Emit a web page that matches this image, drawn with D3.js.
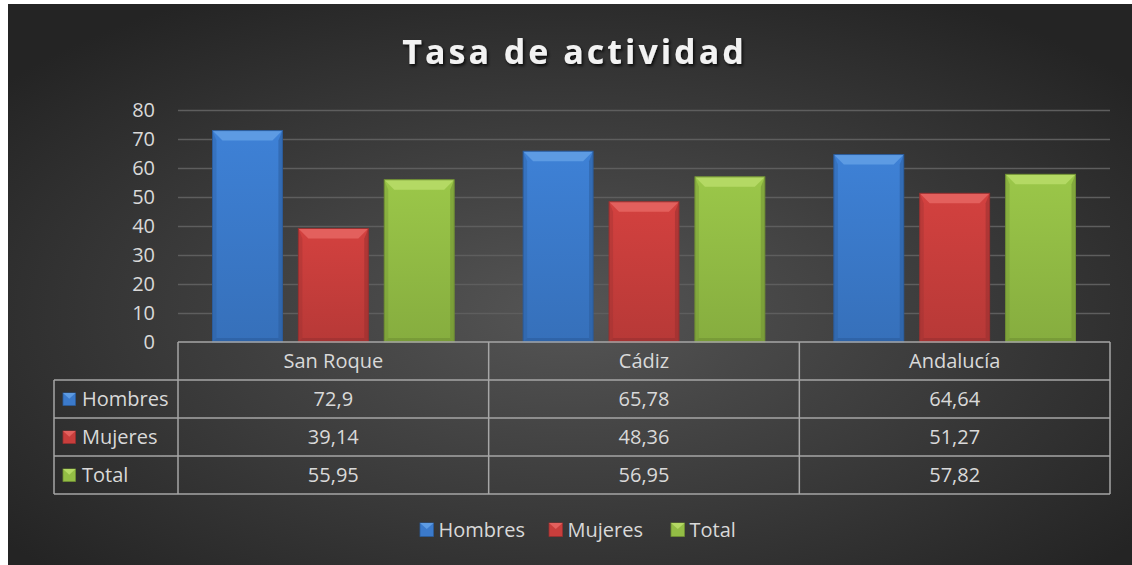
<!DOCTYPE html>
<html>
<head>
<meta charset="utf-8">
<script src="https://cdn.jsdelivr.net/npm/d3@7"></script>
<style>
  body { margin: 0; background: #ffffff; }
  svg text { font-family: "Open Sans", "Noto Sans", sans-serif; fill: #d9d9d9; }
</style>
</head>
<body>
<div id="chart"></div>
<script>
// Chart data
const categories = ["San Roque", "Cádiz", "Andalucía"];
const seriesNames = ["Hombres", "Mujeres", "Total"];
const hombres = [72.9, 65.78, 64.64];
const mujeres = [39.14, 48.36, 51.27];
const total = [55.95, 56.95, 57.82];
const yTicks = [0, 10, 20, 30, 40, 50, 60, 70, 80];

const seriesValues = [hombres, mujeres, total];

// Colours per series: main face, top bevel, dark edge
const colors = {
  Hombres: { main: "#3b7acb", top: "#5d9be3", dark: "#2b5c9c" },
  Mujeres: { main: "#c83e3c", top: "#e3605d", dark: "#973030" },
  Total:   { main: "#93bd45", top: "#b4d964", dark: "#6f8f33" }
};

let w = 1132;
let h = 565;

const svg = d3.select("#chart")
  .append("svg")
  .attr("width", w)
  .attr("height", h);

const defs = svg.append("defs");

// background radial gradient
const bg = defs.append("radialGradient")
  .attr("id", "bg")
  .attr("cx", "50%").attr("cy", "55%").attr("r", "65%");
bg.append("stop").attr("offset", "0%").attr("stop-color", "#555555");
bg.append("stop").attr("offset", "100%").attr("stop-color", "#242424");

// vertical shading for bar faces
seriesNames.forEach(s => {
  const g = defs.append("linearGradient")
    .attr("id", "face-" + s)
    .attr("x1", 0).attr("y1", 0).attr("x2", 0).attr("y2", 1);
  g.append("stop").attr("offset", "0%").attr("stop-color", d3.color(colors[s].main).brighter(0.15));
  g.append("stop").attr("offset", "100%").attr("stop-color", d3.color(colors[s].main).darker(0.25));
});

// title shadow
const shadow = defs.append("filter").attr("id", "shadow")
  .attr("x", "-10%").attr("y", "-30%").attr("width", "120%").attr("height", "160%");
shadow.append("feDropShadow")
  .attr("dx", 1.5).attr("dy", 2).attr("stdDeviation", 1.5)
  .attr("flood-color", "#000").attr("flood-opacity", 0.8);

// chart area background
svg.append("rect")
  .attr("x", 8).attr("y", 4)
  .attr("width", w - 8).attr("height", h - 4)
  .attr("fill", "url(#bg)");

// title
svg.append("text")
  .attr("x", 574.5)
  .attr("y", 64)
  .attr("text-anchor", "middle")
  .style("font-size", "34px")
  .style("font-weight", "bold")
  .style("letter-spacing", "3px")
  .style("fill", "#f2f2f2")
  .attr("filter", "url(#shadow)")
  .text("Tasa de actividad");

// scales
const x = d3.scaleBand()
  .domain(categories)
  .range([178, 1110]);

const xInner = d3.scaleBand()
  .domain(seriesNames)
  .range([34.5, x.bandwidth() - 34.5])
  .paddingInner(0.186);

const y = d3.scaleLinear()
  .domain([0, 80])
  .range([342, 110]);

// gridlines
svg.append("g")
  .attr("transform", "translate(178,0)")
  .call(d3.axisLeft(y).tickValues(yTicks.slice(1)).tickSize(-(1110 - 178)).tickFormat(""))
  .call(g => g.select(".domain").remove())
  .call(g => g.selectAll("line").attr("stroke", "#5e5e5e").attr("stroke-width", 1.5));

// y axis labels
svg.append("g")
  .attr("transform", "translate(178,0)")
  .call(d3.axisLeft(y).tickValues(yTicks).tickSize(0).tickPadding(23))
  .call(g => g.select(".domain").remove())
  .call(g => g.selectAll("text")
    .style("font-size", "20px")
    .style("font-family", "'Open Sans', sans-serif")
    .attr("fill", "#d9d9d9"));

// bars
const barData = [];
categories.forEach((c, i) => {
  seriesNames.forEach((s, j) => {
    barData.push({ category: c, series: s, value: seriesValues[j][i] });
  });
});

const bars = svg.selectAll(".bar")
  .data(barData)
  .enter()
  .append("g")
  .attr("class", "bar");

const bev = 10;
const side = 4;

bars.each(function(d) {
  const g = d3.select(this);
  const x0 = x(d.category) + xInner(d.series);
  const x1 = x0 + xInner.bandwidth();
  const y0 = y(d.value);
  const y1 = y(0);
  const c = colors[d.series];

  g.append("rect")
    .attr("x", x0).attr("y", y0)
    .attr("width", x1 - x0).attr("height", y1 - y0)
    .attr("fill", "url(#face-" + d.series + ")");

  // side edges
  g.append("path")
    .attr("d", `M${x0},${y0}L${x0 + side},${y0 + bev}L${x0 + side},${y1 - 4}L${x0},${y1}Z`)
    .attr("fill", c.dark).attr("opacity", 0.35);
  g.append("path")
    .attr("d", `M${x1},${y0}L${x1 - side},${y0 + bev}L${x1 - side},${y1 - 4}L${x1},${y1}Z`)
    .attr("fill", c.dark).attr("opacity", 0.55);
  // bottom edge
  g.append("path")
    .attr("d", `M${x0},${y1}L${x0 + side},${y1 - 4}L${x1 - side},${y1 - 4}L${x1},${y1}Z`)
    .attr("fill", c.dark).attr("opacity", 0.6);
  // top bevel
  g.append("path")
    .attr("d", `M${x0},${y0}L${x1},${y0}L${x1 - bev},${y0 + bev}L${x0 + bev},${y0 + bev}Z`)
    .attr("fill", c.top);

  g.append("rect")
    .attr("x", x0).attr("y", y0)
    .attr("width", x1 - x0).attr("height", y1 - y0)
    .attr("fill", "none")
    .attr("stroke", c.dark).attr("stroke-width", 1);
});

// data table
const rows = d3.scaleBand()
  .domain(["header"].concat(seriesNames))
  .range([342, 494]);

const tableLeft = 54;
const lineColor = "#a6a6a6";
const table = svg.append("g").attr("class", "table");

// horizontal lines
table.append("line")
  .attr("x1", 178).attr("x2", 1110)
  .attr("y1", rows("header")).attr("y2", rows("header"));
seriesNames.forEach(s => {
  table.append("line")
    .attr("x1", tableLeft).attr("x2", 1110)
    .attr("y1", rows(s)).attr("y2", rows(s));
});
table.append("line")
  .attr("x1", tableLeft).attr("x2", 1110)
  .attr("y1", rows.range()[1]).attr("y2", rows.range()[1]);

// vertical lines
categories.forEach(c => {
  table.append("line")
    .attr("x1", x(c)).attr("x2", x(c))
    .attr("y1", rows("header")).attr("y2", rows.range()[1]);
});
table.append("line")
  .attr("x1", 1110).attr("x2", 1110)
  .attr("y1", rows("header")).attr("y2", rows.range()[1]);
table.append("line")
  .attr("x1", tableLeft).attr("x2", tableLeft)
  .attr("y1", rows(seriesNames[0])).attr("y2", rows.range()[1]);

table.selectAll("line")
  .attr("stroke", lineColor)
  .attr("stroke-width", 1.5);

// header text
table.selectAll(".cat-label")
  .data(categories)
  .enter()
  .append("text")
  .attr("class", "cat-label")
  .attr("x", d => x(d) + x.bandwidth() / 2)
  .attr("y", rows("header") + rows.bandwidth() / 2)
  .attr("dy", "0.36em")
  .attr("text-anchor", "middle")
  .style("font-size", "20px")
  .text(d => d);

const fmt = v => String(v).replace(".", ",");

// legend key icon
function keyIcon(g, s, kx, ky, size) {
  const c = colors[s];
  g.append("rect")
    .attr("x", kx).attr("y", ky).attr("width", size).attr("height", size)
    .attr("fill", c.main).attr("stroke", c.dark).attr("stroke-width", 0.8);
  g.append("path")
    .attr("d", `M${kx},${ky}L${kx + size},${ky}L${kx + size / 2},${ky + size * 0.45}Z`)
    .attr("fill", c.top);
}

seriesNames.forEach((s, j) => {
  const cy = rows(s) + rows.bandwidth() / 2;
  keyIcon(table, s, 63, cy - 6, 12.5);
  table.append("text")
    .attr("x", 82)
    .attr("y", cy)
    .attr("dy", "0.36em")
    .style("font-size", "20px")
    .text(s);

  categories.forEach((c, i) => {
    table.append("text")
      .attr("x", x(c) + x.bandwidth() / 2)
      .attr("y", cy)
      .attr("dy", "0.36em")
      .attr("text-anchor", "middle")
      .style("font-size", "20px")
      .text(fmt(seriesValues[j][i]));
  });
});

// bottom legend
const legendX = [420, 549, 671];
const legend = svg.append("g").attr("class", "legend");
seriesNames.forEach((s, j) => {
  keyIcon(legend, s, legendX[j], 523, 13.5);
  legend.append("text")
    .attr("x", legendX[j] + 18.5)
    .attr("y", 530)
    .attr("dy", "0.36em")
    .style("font-size", "20px")
    .text(s);
});
</script>
</body>
</html>
